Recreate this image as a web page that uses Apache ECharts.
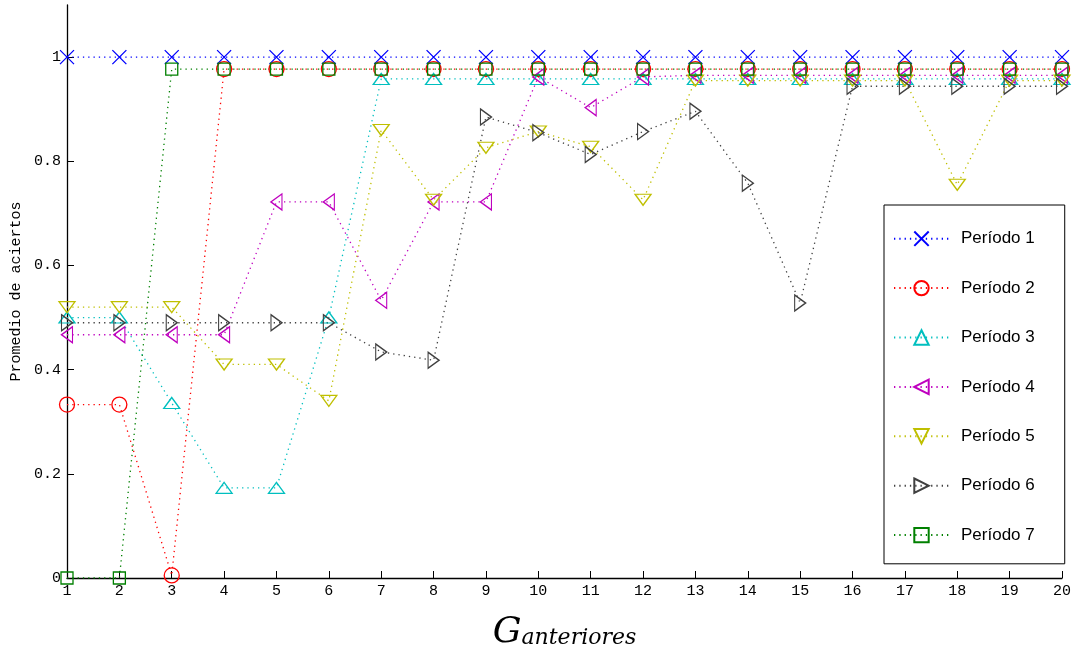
<!DOCTYPE html>
<html>
<head>
<meta charset="utf-8">
<title>Promedio de aciertos</title>
<script src="https://cdn.jsdelivr.net/npm/echarts@6/dist/echarts.min.js"></script>
<style>
    html, body { margin: 0; padding: 0; background: #fff; }
    #main { width: 1073px; height: 650px; }
</style>
</head>
<body>
<div id="main"></div>
<script>
// eje x: G anteriores
var gAnt = [1, 2, 3, 4, 5, 6, 7, 8, 9, 10, 11, 12, 13, 14, 15, 16, 17, 18, 19, 20];
var yTicks = [0, 0.2, 0.4, 0.6, 0.8, 1];

var periodo1 = [1, 1, 1, 1, 1, 1, 1, 1, 1, 1, 1, 1, 1, 1, 1, 1, 1, 1, 1, 1];
var periodo2 = [0.333, 0.333, 0.005, 0.977, 0.977, 0.977, 0.977, 0.977, 0.977, 0.977, 0.977, 0.977, 0.977, 0.977, 0.977, 0.977, 0.977, 0.977, 0.977, 0.977];
var periodo3 = [0.5, 0.5, 0.336, 0.173, 0.173, 0.5, 0.958, 0.958, 0.958, 0.958, 0.958, 0.958, 0.958, 0.958, 0.958, 0.958, 0.958, 0.958, 0.958, 0.958];
var periodo4 = [0.467, 0.467, 0.467, 0.467, 0.722, 0.722, 0.533, 0.722, 0.722, 0.962, 0.903, 0.962, 0.965, 0.965, 0.965, 0.965, 0.965, 0.965, 0.965, 0.965];
var periodo5 = [0.52, 0.52, 0.52, 0.41, 0.41, 0.34, 0.86, 0.726, 0.826, 0.857, 0.828, 0.726, 0.955, 0.955, 0.955, 0.955, 0.955, 0.755, 0.955, 0.955];
var periodo6 = [0.49, 0.49, 0.49, 0.49, 0.49, 0.49, 0.434, 0.418, 0.885, 0.855, 0.813, 0.857, 0.896, 0.758, 0.528, 0.944, 0.944, 0.944, 0.944, 0.944];
var periodo7 = [0, 0, 0.977, 0.977, 0.977, 0.977, 0.977, 0.977, 0.977, 0.977, 0.977, 0.977, 0.977, 0.977, 0.977, 0.977, 0.977, 0.977, 0.977, 0.977];

var nombres = ['Período 1', 'Período 2', 'Período 3', 'Período 4', 'Período 5', 'Período 6', 'Período 7'];
var colores = ['#0000ff', '#ff0000', '#00bfbf', '#bf00bf', '#bfbf00', '#404040', '#008000'];
var simbolos = [
    'path://M0,0L10,10M0,10L10,0',
    'circle',
    'path://M5,0L10,9L0,9Z',
    'path://M0,5L9,0L9,10Z',
    'path://M0,0L10,0L5,9Z',
    'path://M0,0L9,5L0,10Z',
    'rect'
];
var tamanos = [[14, 14], 15, [16, 11], [11, 16], [16, 11], [11, 16], 12];
var datos = [periodo1, periodo2, periodo3, periodo4, periodo5, periodo6, periodo7];

function pares(ys) {
    var arr = [];
    for (var i = 0; i < gAnt.length; i++) {
        arr.push([gAnt[i], ys[i]]);
    }
    return arr;
}

var fuenteEje = 'Liberation Mono';

window.onload = function () {
    var myChart = echarts.init(document.getElementById('main'));

    var series = [];
    for (var i = 0; i < datos.length; i++) {
        series.push({
            name: nombres[i],
            type: 'line',
            data: pares(datos[i]),
            symbol: simbolos[i],
            symbolSize: tamanos[i],
            showAllSymbol: true,
            lineStyle: {
                color: colores[i],
                width: 1.3,
                type: [1.3, 4]
            },
            itemStyle: {
                color: 'none',
                borderColor: colores[i],
                borderWidth: 1.3
            },
            emphasis: { disabled: true }
        });
    }

    var option = {
        animation: false,
        backgroundColor: '#fff',
        grid: {
            left: 67,
            right: 11,
            top: 5,
            bottom: 72,
            containLabel: false,
            outerBoundsMode: 'none'
        },
        legend: {
            orient: 'vertical',
            left: 884,
            top: 205,
            data: nombres,
            itemWidth: 55,
            itemHeight: 18,
            itemGap: 30,
            padding: [24, 30, 19, 9],
            borderColor: '#000',
            borderWidth: 1,
            backgroundColor: '#fff',
            textStyle: {
                fontFamily: 'Liberation Sans',
                fontSize: 17,
                color: '#000',
                padding: [0, 0, 0, 7]
            }
        },
        xAxis: {
            type: 'value',
            min: 1,
            max: 20,
            interval: 1,
            splitLine: { show: false },
            axisLine: { lineStyle: { color: '#000', width: 1.3 } },
            axisTick: { inside: true, length: 7, lineStyle: { color: '#000' } },
            axisLabel: {
                fontFamily: fuenteEje,
                fontSize: 15,
                color: '#000',
                margin: 6
            },
            name: '{g|G}{s|anteriores}',
            nameLocation: 'middle',
            nameGap: 37,
            nameTextStyle: {
                rich: {
                    g: {
                        fontFamily: 'DejaVu Serif',
                        fontStyle: 'italic',
                        fontSize: 36,
                        color: '#000'
                    },
                    s: {
                        fontFamily: 'DejaVu Serif',
                        fontStyle: 'italic',
                        fontSize: 22,
                        color: '#000',
                        padding: [10, 0, 0, 0]
                    }
                }
            }
        },
        yAxis: {
            type: 'value',
            min: 0,
            max: 1.1,
            splitLine: { show: false },
            axisLine: { show: true, lineStyle: { color: '#000', width: 1.3 } },
            axisTick: {
                inside: true,
                length: 7,
                customValues: yTicks,
                lineStyle: { color: '#000' }
            },
            axisLabel: {
                customValues: yTicks,
                fontFamily: fuenteEje,
                fontSize: 15,
                color: '#000',
                margin: 6
            },
            name: 'Promedio de aciertos',
            nameLocation: 'middle',
            nameRotate: 90,
            nameGap: 43,
            nameTextStyle: {
                fontFamily: fuenteEje,
                fontSize: 15,
                color: '#000'
            }
        },
        series: series
    };

    myChart.setOption(option);
};
</script>
</body>
</html>
